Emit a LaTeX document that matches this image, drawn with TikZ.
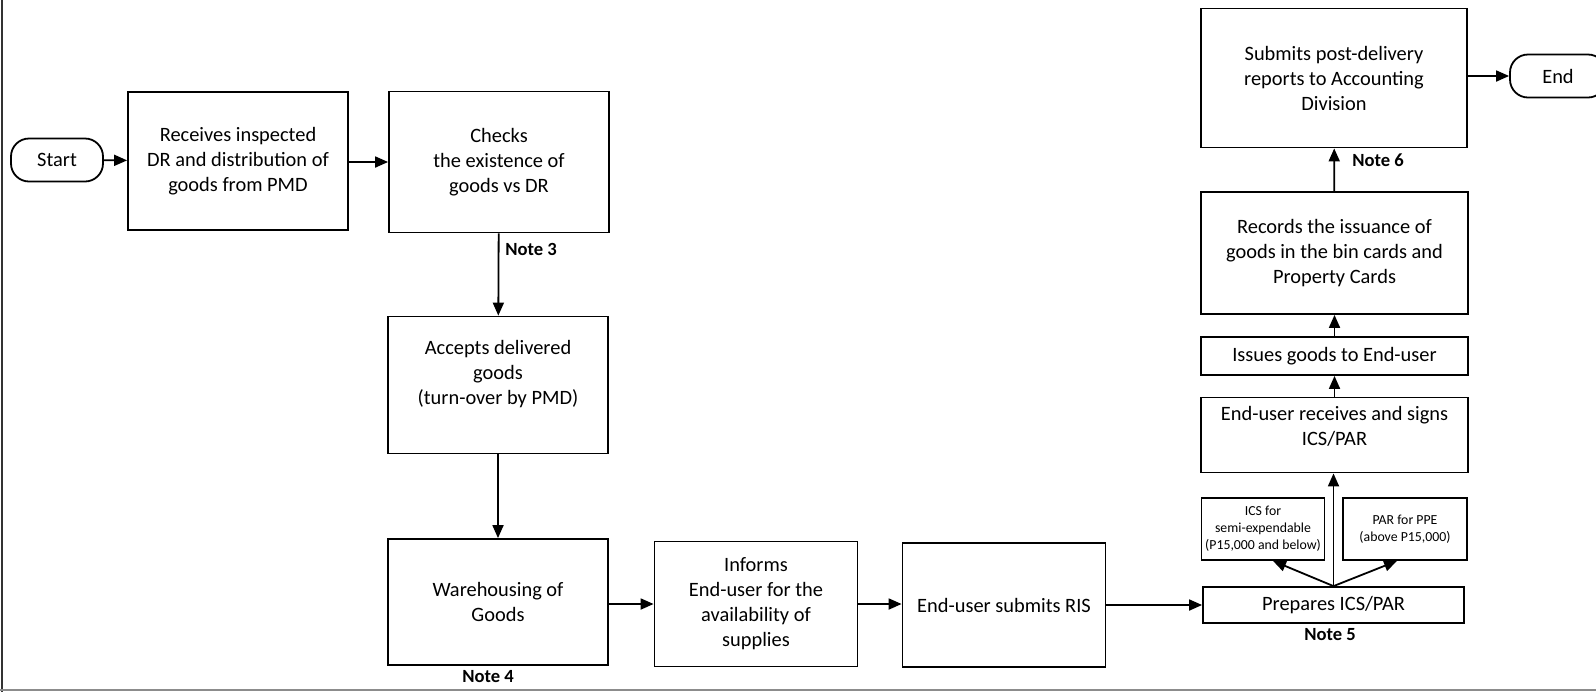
\documentclass[tikz,border=0pt]{standalone}
\usepackage{fontspec}
\setmainfont{Carlito}
\usepackage{tikz}
\usetikzlibrary{shapes,arrows,positioning,calc,arrows.meta}

\begin{document}
\begin{tikzpicture}[x=0.5pt,y=-0.5pt,
    box/.style={draw, line width=0.9pt, align=center, inner sep=0pt,
        font=\fontsize{10.2}{12.5}\selectfont},
    term/.style={box, rounded corners=9pt, minimum height=21.5pt},
    note/.style={font=\fontsize{9.3}{10}\selectfont\bfseries, inner sep=0pt},
    arr/.style={line width=0.9pt, -{Triangle[length=6.5pt,width=5.5pt]}}]
    \useasboundingbox (0,0) rectangle (1596,692);
    % frame
    \draw[line width=1pt, black!80] (2,0) -- (2,692);
    \draw[line width=1pt, black!45] (0,690) -- (1596,690);

    % Receiving
    \node[term, minimum width=46pt] (start) at (57,160) {Start};
    \node[box, minimum width=110pt, minimum height=69pt] (recv) at (238,161)
        {Receives inspected\\DR and distribution of\\goods from PMD};
    \node[box, minimum width=110pt, minimum height=70.5pt] (check) at (499,162)
        {Checks\\the existence of\\goods vs DR};
    \node[box, minimum width=110pt, minimum height=68.5pt] (accept) at (498,385)
        {Accepts delivered\\goods\\(turn-over by PMD)\\\mbox{}};
    \node[box, minimum width=110pt, minimum height=63pt] (wareh) at (498,602)
        {Warehousing of\\Goods};
    \node[box, minimum width=101.5pt, minimum height=62.5pt] (inform) at (756,604)
        {Informs\\End-user for the\\availability of\\supplies};
    \node[box, minimum width=101.5pt, minimum height=62pt] (ris) at (1004,605)
        {End-user submits RIS};

    % Issuance
    \node[box, minimum width=130.5pt, minimum height=18pt] (prep) at (1333.5,605)
        {Prepares ICS/PAR};
    \node[box, minimum width=61.5pt, minimum height=31pt,
        font=\fontsize{6.9}{8.5}\selectfont] (ics) at (1263,529)
        {ICS for\\semi-expendable\\(P15,000 and below)};
    \node[box, minimum width=62pt, minimum height=31pt,
        font=\fontsize{6.9}{8.5}\selectfont] (par) at (1405,529)
        {PAR for PPE\\(above P15,000)};
    \node[box, minimum width=133.5pt, minimum height=37.5pt] (sign) at (1334.5,435)
        {End-user receives and signs\\ICS/PAR\\[-3pt]\mbox{}};
    \node[box, minimum width=133.5pt, minimum height=19pt] (issue) at (1334.5,356)
        {Issues goods to End-user};
    \node[box, minimum width=133.5pt, minimum height=61pt] (record) at (1334.5,253)
        {Records the issuance of\\goods in the bin cards and\\Property Cards};
    \node[box, minimum width=133pt, minimum height=69.5pt] (submit) at (1334,78)
        {Submits post-delivery\\reports to Accounting\\Division};
    \node[term, minimum width=48pt] (end) at (1558,76) {End};

    % Notes
    \node[note] (n3) at (531,249) {Note 3};
    \node[note] (n4) at (488,677) {Note 4};
    \node[note] (n5) at (1330,635) {Note 5};
    \node[note] (n6) at (1378,160) {Note 6};

    % Flow
    \draw[arr] (start) -- (recv);
    \draw[arr] (recv.east |- check) -- (check);
    \draw[arr] (check) -- (accept);
    \draw[arr] (accept) -- (wareh);
    \draw[arr] (wareh.east |- inform) -- (inform);
    \draw[arr] (inform) -- (inform.east -| ris.west);
    \draw[arr] (ris) -- (ris.east -| prep.west);
    \draw[arr] (prep.north) -- ([xshift=5pt]ics.south);
    \draw[arr] (prep.north) -- ([xshift=-4pt]par.south);
    \draw[arr] (prep.north) -- (prep.north |- sign.south);
    \draw[arr] (sign) -- (issue);
    \draw[arr] (issue) -- (record);
    \draw[arr] (record) -- (submit);
    \draw[arr] (submit.east |- end) -- (end);
\end{tikzpicture}
\end{document}
